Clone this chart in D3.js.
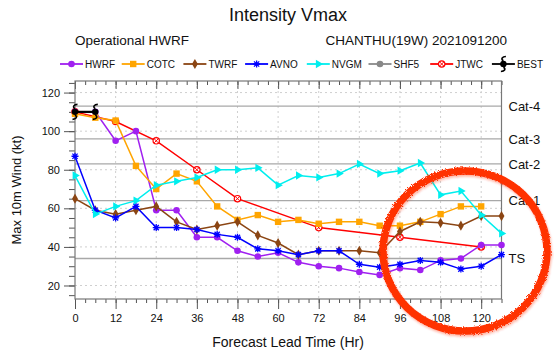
<!DOCTYPE html>
<html>
<head>
<meta charset="utf-8">
<script src="https://cdn.jsdelivr.net/npm/d3@7"></script>
<style>
    body { margin: 0; background: #fff; }
    text { font-family: "Liberation Sans", Arial, sans-serif; fill: #111; }
</style>
</head>
<body>
<div id="chart"></div>
<script>
// Chart data (kt)
let hours = [0, 6, 12, 18, 24, 30, 36, 42, 48, 54, 60, 66, 72, 78, 84, 90, 96, 102, 108, 114, 120, 126];
let hwrf = [110, 110, 95, 100, 59, 59, 45, 45, 38, 35, 37, 32, 30, 29, 27, 25.5, 29, 28, 33, 34, 41, 41];
let cotc = [109, 107, 105.5, 82, 70, 78, 74, 61, 54, 56.5, 53, 54, 52, 53, 53, 51, 51, 53, 57, 61, 61];
let twrf = [65, 59, 57, 59, 61, 53, 49, 51, 53, 46, 42, 36, 38, 38, 38, 37, 48, 53, 52.5, 51, 56, 56];
let avno = [87, 59, 55, 61, 50, 50, 49, 46.5, 45, 39, 38, 36, 38, 38, 31, 29.5, 31, 33, 32, 28.5, 30, 36];
let nvgm = [77, 57, 61, 64, 72, 74, 76, 80, 80, 81, 72, 77, 76, 78, 83, 78, 79.5, 83.5, 67, 69, 56.5, 47];
let jtwcHours = [0, 12, 24, 36, 48, 72, 96, 120];
let jtwc = [110, 105, 95, 80, 65, 50, 45, 40];
let bestHours = [0, 6];
let best = [110, 110];

let xTicks = [0, 12, 24, 36, 48, 60, 72, 84, 96, 108, 120];
let yTicks = [20, 40, 60, 80, 100, 120];
let catLevels = [113, 96, 83, 64, 34];
let catLabels = ['Cat-4', 'Cat-3', 'Cat-2', 'Cat-1', 'TS'];

let legendNames = ['HWRF', 'COTC', 'TWRF', 'AVNO', 'NVGM', 'SHF5', 'JTWC', 'BEST'];
let legendColors = ['#a020f0', '#ffa500', '#8b4513', '#0000ff', '#00eeee', '#888888', '#ff0000', '#000000'];

let svgWidth = 554;
let svgHeight = 353;
let margin = { top: 81, right: 52.5, bottom: 54, left: 75 };
let width = svgWidth - margin.left - margin.right;
let height = svgHeight - margin.top - margin.bottom;

let svg = d3.select('#chart')
    .append('svg')
    .attr('width', svgWidth)
    .attr('height', svgHeight);

// rough red marker look for the hand drawn ring
let defs = svg.append('defs');
let rough = defs.append('filter').attr('id', 'rough')
    .attr('x', '-20%').attr('y', '-20%').attr('width', '140%').attr('height', '140%');
rough.append('feTurbulence').attr('type', 'fractalNoise').attr('baseFrequency', 0.9)
    .attr('numOctaves', 2).attr('result', 'noise');
rough.append('feDisplacementMap').attr('in', 'SourceGraphic').attr('in2', 'noise')
    .attr('scale', 3.5).attr('result', 'disp');
rough.append('feGaussianBlur').attr('in', 'disp').attr('stdDeviation', 1.2).attr('result', 'blur');
rough.append('feOffset').attr('in', 'blur').attr('dx', 1).attr('dy', 1.5).attr('result', 'off');
rough.append('feComponentTransfer').attr('in', 'off').attr('result', 'shadow')
    .append('feFuncA').attr('type', 'linear').attr('slope', 0.35);
let merge = rough.append('feMerge');
merge.append('feMergeNode').attr('in', 'shadow');
merge.append('feMergeNode').attr('in', 'disp');

let chartGroup = svg.append('g')
    .attr('transform', `translate(${margin.left}, ${margin.top})`);

let xScale = d3.scaleLinear().domain([0, 126]).range([0, width]);
let yScale = d3.scaleLinear().domain([13, 126]).range([height, 0]);

// dotted grid
chartGroup.append('g')
    .selectAll('line')
    .data(xTicks.slice(1))
    .enter()
    .append('line')
    .attr('x1', d => xScale(d)).attr('x2', d => xScale(d))
    .attr('y1', 0).attr('y2', height)
    .attr('stroke', '#cfcfcf')
    .attr('stroke-dasharray', '2,3');

chartGroup.append('g')
    .selectAll('line')
    .data(yTicks)
    .enter()
    .append('line')
    .attr('x1', 0).attr('x2', width)
    .attr('y1', d => yScale(d)).attr('y2', d => yScale(d))
    .attr('stroke', '#cfcfcf')
    .attr('stroke-dasharray', '2,3');

// category lines
chartGroup.append('g')
    .selectAll('line')
    .data(catLevels)
    .enter()
    .append('line')
    .attr('x1', 0).attr('x2', width)
    .attr('y1', d => yScale(d)).attr('y2', d => yScale(d))
    .attr('stroke', '#a8a8a8')
    .attr('stroke-width', 1.3);

chartGroup.append('g')
    .selectAll('text')
    .data(catLevels)
    .enter()
    .append('text')
    .attr('x', width + 7)
    .attr('y', d => yScale(d))
    .attr('dy', '0.36em')
    .attr('font-size', 13)
    .text((d, i) => catLabels[i]);

// axes
let bottomAxis = d3.axisBottom(xScale).tickValues(xTicks).tickSize(10).tickPadding(5);
let bottomMinor = d3.axisBottom(xScale).tickValues(d3.range(0, 127, 3)).tickSize(4).tickFormat('');
let topMinor = d3.axisBottom(xScale).tickValues(d3.range(0, 127, 3)).tickSize(4).tickFormat('');
let topMajor = d3.axisBottom(xScale).tickValues(xTicks).tickSize(8).tickFormat('');
let leftAxis = d3.axisLeft(yScale).tickValues(yTicks).tickSize(11).tickPadding(4);
let leftMinor = d3.axisLeft(yScale).tickValues(d3.range(15, 126, 5)).tickSize(6).tickFormat('');

function styleAxis(g) {
    g.select('.domain').remove();
    g.selectAll('line').attr('stroke', '#555');
    g.selectAll('text').attr('font-size', 11).attr('fill', '#111')
        .attr('font-family', '"Liberation Sans", Arial, sans-serif');
}

chartGroup.append('g').attr('transform', `translate(0,${height})`).call(bottomMinor).call(styleAxis);
chartGroup.append('g').attr('transform', `translate(0,${height})`).call(bottomAxis).call(styleAxis);
chartGroup.append('g').call(topMinor).call(styleAxis);
chartGroup.append('g').call(topMajor).call(styleAxis);
chartGroup.append('g').call(leftMinor).call(styleAxis);
chartGroup.append('g').call(leftAxis).call(styleAxis);

// frame
chartGroup.append('rect')
    .attr('width', width).attr('height', height)
    .attr('fill', 'none')
    .attr('stroke', '#777')
    .attr('stroke-width', 1.2);

// marker helpers
function drawMarker(g, name, color) {
    if (name === 'HWRF' || name === 'SHF5') {
        g.append('circle').attr('r', 3.3).attr('fill', color);
    } else if (name === 'COTC') {
        g.append('rect').attr('x', -3.2).attr('y', -3.2).attr('width', 6.4).attr('height', 6.4).attr('fill', color);
    } else if (name === 'TWRF') {
        g.append('path').attr('d', d3.symbol(d3.symbolDiamond, 30)()).attr('fill', color);
    } else if (name === 'AVNO') {
        g.append('path').attr('d', 'M-3.5,0H3.5M0,-3.5V3.5M-2.6,-2.6L2.6,2.6M-2.6,2.6L2.6,-2.6')
            .attr('stroke', color).attr('stroke-width', 1.3);
    } else if (name === 'NVGM') {
        g.append('path').attr('d', d3.symbol(d3.symbolTriangle, 30)())
            .attr('transform', 'rotate(90)').attr('fill', color);
    } else if (name === 'JTWC') {
        g.append('circle').attr('r', 3.2).attr('fill', 'white').attr('stroke', color).attr('stroke-width', 1.2);
        g.append('path').attr('d', 'M-2,-2L2,2M-2,2L2,-2').attr('stroke', color).attr('stroke-width', 1);
    } else if (name === 'BEST') {
        g.append('circle').attr('r', 3.2).attr('fill', color);
        g.append('path').attr('d', 'M0,-3.2C-3,-5 -1,-7.5 2.5,-7.5M0,3.2C3,5 1,7.5 -2.5,7.5')
            .attr('fill', 'none').attr('stroke', color).attr('stroke-width', 1.6);
    }
}

// JTWC goes underneath so the 12 h mark hides below the COTC square
let series = [
    { name: 'JTWC', xs: jtwcHours, ys: jtwc },
    { name: 'HWRF', xs: hours, ys: hwrf },
    { name: 'COTC', xs: hours, ys: cotc },
    { name: 'TWRF', xs: hours, ys: twrf },
    { name: 'AVNO', xs: hours, ys: avno },
    { name: 'NVGM', xs: hours, ys: nvgm },
    { name: 'BEST', xs: bestHours, ys: best }
];

let line = d3.line()
    .x(d => xScale(d[0]))
    .y(d => yScale(d[1]));

series.forEach(function(s) {
    let color = legendColors[legendNames.indexOf(s.name)];
    let pts = s.ys.map((v, i) => [s.xs[i], v]);
    chartGroup.append('path')
        .datum(pts)
        .attr('d', line)
        .attr('fill', 'none')
        .attr('stroke', color)
        .attr('stroke-width', s.name === 'BEST' ? 2.2 : 1.5);
    chartGroup.append('g')
        .selectAll('g')
        .data(pts)
        .enter()
        .append('g')
        .attr('transform', d => `translate(${xScale(d[0])},${yScale(d[1])})`)
        .each(function() { drawMarker(d3.select(this), s.name, color); });
});

// titles
svg.append('text')
    .attr('x', 288).attr('y', 21)
    .attr('text-anchor', 'middle')
    .attr('font-size', 18)
    .text('Intensity Vmax');

svg.append('text')
    .attr('x', 75).attr('y', 45)
    .attr('font-size', 13.5)
    .text('Operational HWRF');

svg.append('text')
    .attr('x', 507).attr('y', 45)
    .attr('text-anchor', 'end')
    .attr('font-size', 13.5)
    .text('CHANTHU(19W) 2021091200');

// axis titles
svg.append('text')
    .attr('x', 288).attr('y', 347)
    .attr('text-anchor', 'middle')
    .attr('font-size', 14)
    .text('Forecast Lead Time (Hr)');

svg.append('text')
    .attr('transform', `translate(21, ${margin.top + height / 2}) rotate(-90)`)
    .attr('text-anchor', 'middle')
    .attr('font-size', 13)
    .text('Max 10m Wind (kt)');

// legend
let legend = svg.append('g').attr('transform', 'translate(60, 64)');
legendNames.forEach(function(name, i) {
    let item = legend.append('g').attr('transform', `translate(${i * 61.7}, 0)`);
    item.append('line')
        .attr('x1', 0).attr('x2', 23)
        .attr('stroke', legendColors[i])
        .attr('stroke-width', 1.8);
    let m = item.append('g').attr('transform', 'translate(11.5,0)');
    drawMarker(m, name, legendColors[i]);
    item.append('text')
        .attr('x', 25).attr('dy', '0.36em')
        .attr('font-size', 10)
        .text(name);
});

// hand drawn red ring
svg.append('ellipse')
    .attr('cx', 465).attr('cy', 251)
    .attr('rx', 82).attr('ry', 80)
    .attr('fill', 'none')
    .attr('stroke', '#ff3000')
    .attr('stroke-width', 7.5)
    .attr('filter', 'url(#rough)');
</script>
</body>
</html>
